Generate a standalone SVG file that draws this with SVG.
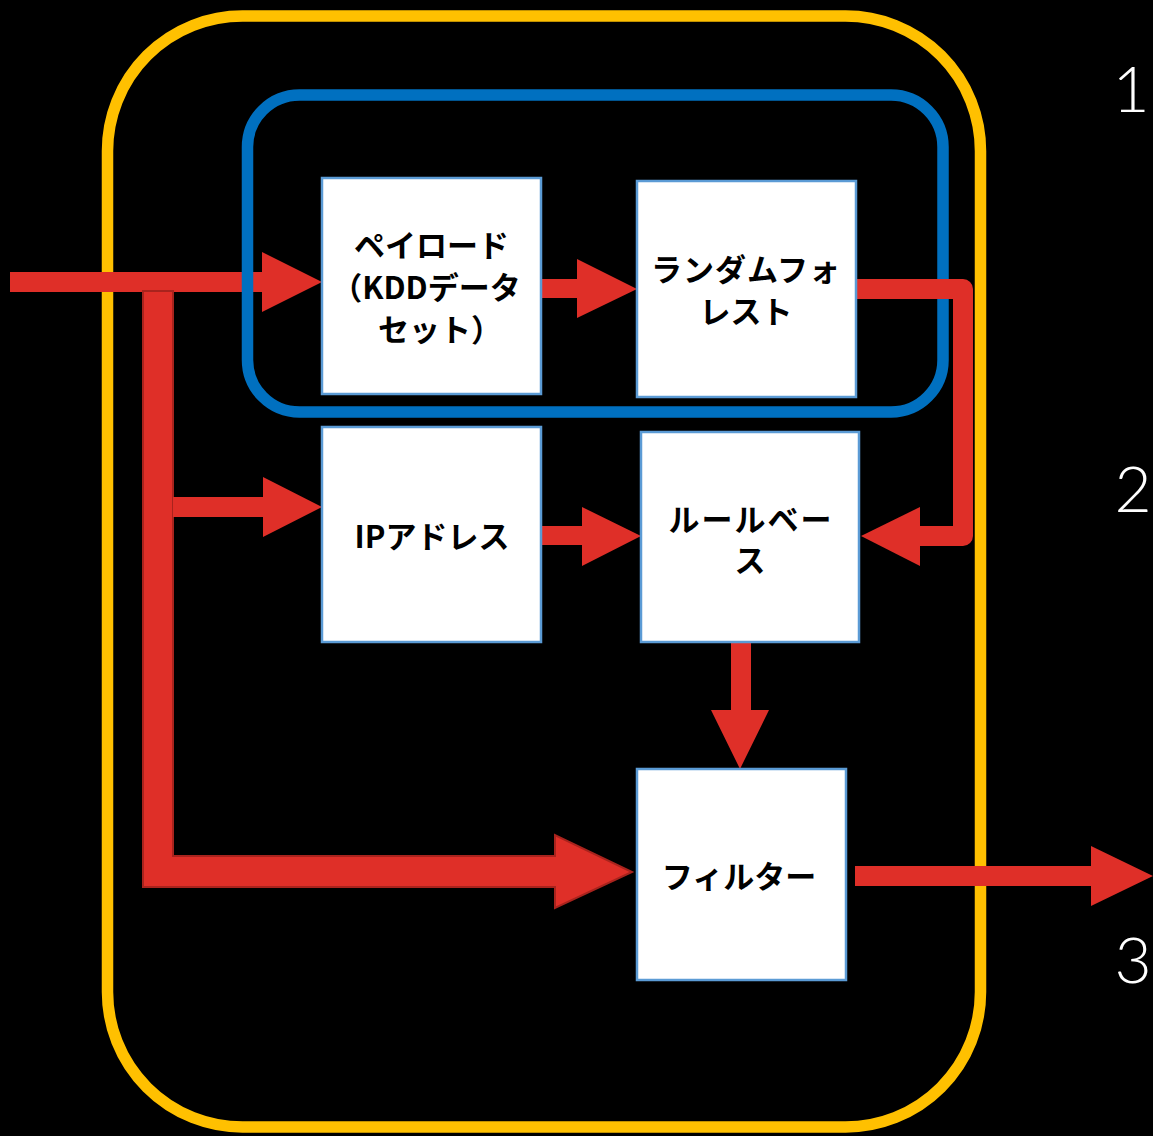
<svg xmlns="http://www.w3.org/2000/svg" width="1153" height="1136" viewBox="0 0 1153 1136">
  <style>
    .box { fill: #ffffff; stroke: #5b9bd5; stroke-width: 2.5; }
    .lbl { font-family: "Noto Sans CJK JP", "Noto Sans", sans-serif; font-weight: 700; font-size: 31px; fill: #000000; text-anchor: middle; }
    .num { font-family: "Lato", "Noto Sans", "DejaVu Sans", sans-serif; font-weight: 300; font-size: 64px; fill: #ffffff; text-anchor: middle; }
    .arrow { fill: #df2f28; }
    .arrow-outlined { fill: #df2f28; stroke: #a8231d; stroke-width: 2; stroke-linejoin: miter; }
    .elbow { fill: none; stroke: #df2f28; stroke-width: 20; stroke-linejoin: round; }
  </style>

  <rect x="0" y="0" width="1153" height="1136" fill="#000000"/>

  <!-- outer system boundary -->
  <g id="system-boundary">
    <rect x="107.5" y="16" width="873" height="1111" rx="135" ry="135" fill="none" stroke="#ffc000" stroke-width="11.5"/>
  </g>

  <!-- connectors drawn beneath the ML boundary -->
  <g id="connectors">
    <!-- incoming traffic -> payload -->
    <polygon class="arrow" points="10,272 262,272 262,252 322,282 262,312 262,292 10,292"/>
    <!-- branch to filter (L-shaped) -->
    <polygon class="arrow-outlined" points="143,291 173,291 173,856 555,856 555,835 632,872 555,908 555,887 143,887"/>
    <!-- branch to IP address -->
    <polygon class="arrow" points="173,497 263,497 263,477 322,507 263,537 263,517 173,517"/>
    <!-- payload -> random forest -->
    <polygon class="arrow" points="541,279 577,279 577,259 637,289 577,318 577,298 541,298"/>
    <!-- IP address -> rule base -->
    <polygon class="arrow" points="541,526 582,526 582,507 641,536 582,566 582,545 541,545"/>
    <!-- rule base -> filter -->
    <polygon class="arrow" points="731,642 751,642 751,710 769,710 740,769 711,710 731,710"/>
    <!-- filter -> output -->
    <polygon class="arrow" points="855,866 1091,866 1091,846 1153,876 1091,906 1091,886 855,886"/>
  </g>

  <!-- machine-learning boundary -->
  <g id="ml-boundary">
    <rect x="247.5" y="95" width="695.5" height="317" rx="52" ry="52" fill="none" stroke="#0070c0" stroke-width="11.5"/>
  </g>

  <!-- random forest -> rule base, drawn over the ML boundary -->
  <g id="connector-rf-rule">
    <path class="elbow" d="M856,289 H963 V536 H918"/>
    <polygon class="arrow" points="920,507 861,536 920,566"/>
  </g>

  <g id="node-payload">
    <rect class="box" x="322" y="178" width="219" height="216"/>
    <text class="lbl" x="431.5" y="257">ペイロード</text>
    <text class="lbl" x="426" y="299">（KDDデータ</text>
    <text class="lbl" x="440" y="341">セット）</text>
  </g>

  <g id="node-random-forest">
    <rect class="box" x="637" y="181" width="219" height="216"/>
    <text class="lbl" x="746" y="281" letter-spacing="1">ランダムフォ</text>
    <text class="lbl" x="746" y="323">レスト</text>
  </g>

  <g id="node-ip-address">
    <rect class="box" x="322" y="427" width="219" height="215"/>
    <text class="lbl" x="432" y="548">IPアドレス</text>
  </g>

  <g id="node-rule-base">
    <rect class="box" x="641" y="432" width="218" height="210"/>
    <text class="lbl" x="751" y="531" letter-spacing="2">ルールベー</text>
    <text class="lbl" x="750" y="572">ス</text>
  </g>

  <g id="node-filter">
    <rect class="box" x="637" y="769" width="209" height="211"/>
    <text class="lbl" x="739" y="888">フィルター</text>
  </g>

  <g id="stage-numbers">
    <text class="num" x="1131" y="112">1</text>
    <text class="num" x="1133" y="512">2</text>
    <text class="num" x="1133" y="983">3</text>
  </g>
</svg>
